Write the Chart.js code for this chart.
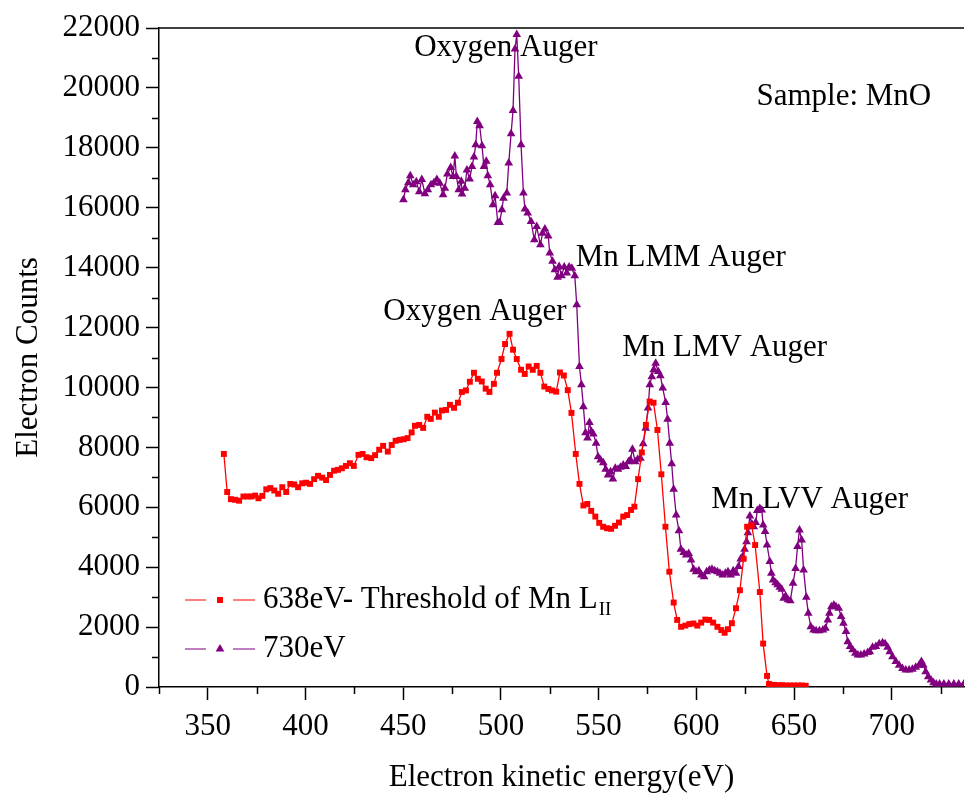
<!DOCTYPE html>
<html>
<head>
<meta charset="utf-8">
<script src="https://cdn.jsdelivr.net/npm/chart.js@4.4.1/dist/chart.umd.min.js"></script>
<style>
  html, body { margin: 0; padding: 0; background: #fff; }
  #wrap { width: 969px; height: 796px; }
</style>
</head>
<body>
<div id="wrap"><canvas id="auger" width="969" height="796"></canvas></div>
<script>
// Auger spectra of MnO at two excitation energies
const redLabel = '638eV- Threshold of Mn L';
const redSub = 'II';
const purpleLabel = '730eV';

const redX = [358.2, 359.9, 361.8, 364.0, 366.0, 368.2, 370.3, 372.3, 374.2, 375.9,
  377.9, 379.9, 382.0, 384.0, 386.0, 388.1, 390.1, 392.2, 394.2, 396.2,
  398.3, 400.3, 402.3, 404.4, 406.4, 408.5, 410.5, 412.5, 414.6, 416.6,
  418.6, 420.7, 422.7, 424.7, 427.1, 429.2, 431.2, 433.6, 435.6, 437.7,
  439.7, 442.1, 444.1, 446.1, 448.2, 450.2, 452.2, 454.3, 456.0, 458.2,
  460.2, 462.3, 464.1, 466.2, 468.2, 469.8, 471.9, 473.9, 476.0, 478.0,
  480.0, 482.1, 484.1, 486.2, 488.2, 490.2, 492.2, 494.1, 496.4, 498.0,
  500.3, 502.1, 504.4, 506.2, 508.1, 510.3, 512.2, 514.2, 516.3, 518.3,
  520.2, 522.2, 524.3, 526.1, 528.3, 530.2, 532.2, 534.2, 536.1, 538.3,
  540.2, 542.2, 544.2, 546.2, 548.3, 550.3, 552.3, 554.3, 556.4, 558.4,
  560.4, 562.6, 564.6, 566.6, 568.3, 570.2, 572.1, 574.2, 576.1, 578.1,
  580.1, 582.1, 584.2, 586.2, 588.4, 590.2, 592.2, 594.4, 596.4, 598.5,
  600.5, 602.5, 604.6, 606.6, 608.6, 610.8, 612.8, 614.5, 616.2, 618.2,
  620.3, 622.3, 624.2, 626.0, 628.3, 630.1, 632.5, 634.2, 636.2, 637.2,
  640, 642, 644, 646, 648, 650, 652, 654, 656];
const redY = [7780, 6510, 6270, 6250, 6220, 6360, 6360, 6360, 6390, 6300,
  6380, 6600, 6640, 6560, 6450, 6670, 6510, 6780, 6760, 6670,
  6800, 6820, 6780, 6940, 7050, 6990, 6910, 7080, 7220, 7250,
  7300, 7380, 7470, 7380, 7750, 7780, 7670, 7640, 7740, 7920,
  8050, 7860, 8080, 8220, 8250, 8270, 8310, 8500, 8720, 8750,
  8650, 9020, 8950, 9160, 9020, 9230, 9250, 9420, 9320, 9490,
  9850, 9900, 10190, 10490, 10290, 10200, 9960, 9850, 10120, 10490,
  10950, 11450, 11790, 11260, 10950, 10590, 10450, 10700, 10590, 10720,
  10490, 10030, 9950, 9900, 9860, 10500, 10400, 9910, 9150, 7780,
  6780, 6060, 6110, 5880, 5690, 5480, 5350, 5300, 5280, 5380,
  5490, 5690, 5740, 5910, 6020, 6940, 7830, 8750, 9530, 9490,
  8580, 7100, 5350, 3850, 2820, 2240, 2010, 2050, 2100, 2120,
  2050, 2150, 2250, 2240, 2150, 2010, 1900, 1810, 1930, 2130,
  2630, 3230, 4280, 5350, 5400, 4740, 3170, 1450, 370, 100,
  70, 60, 60, 50, 50, 50, 50, 50, 40];

const purpleX = [450.1, 451.1, 452.6, 453.6, 455.1, 456.7, 458.2, 459.5, 461.1, 462.6,
  464.2, 465.7, 467.2, 468.7, 470.4, 471.3, 472.6, 474.3, 475.5, 476.4,
  477.2, 478.4, 479.7, 480.1, 481.5, 482.6, 484.0, 485.2, 486.2, 487.1,
  487.9, 489.1, 490.3, 491.3, 492.5, 493.3, 494.5, 495.9, 497.0, 498.4,
  499.3, 500.5, 501.3, 503.0, 504.0, 505.2, 506.2, 507.2, 508.1, 509.1,
  510.3, 511.5, 512.3, 513.7, 515.4, 517.1, 518.3, 520.2, 521.3, 522.5,
  524.2, 525.0, 526.4, 527.6, 529.0, 529.8, 531.0, 532.4, 533.7, 534.9,
  536.3, 537.8, 538.8, 540.2, 541.2, 542.2, 543.3, 544.3, 545.3, 546.3,
  547.3, 548.7, 549.7, 551.0, 552.4, 553.6, 554.8, 556.1, 557.3, 558.5,
  559.9, 561.2, 562.6, 563.9, 565.3, 566.3, 567.3, 568.7, 570.0, 571.4,
  572.8, 574.1, 575.3, 576.2, 577.2, 578.2, 579.2, 580.5, 581.6, 582.8,
  584.3, 585.3, 586.4, 587.4, 588.4, 589.7, 591.1, 592.1, 593.5, 594.8,
  596.1, 597.3, 598.6, 599.9, 601.3, 602.6, 604.0, 605.3, 606.7, 608.0,
  609.4, 610.8, 612.1, 613.5, 614.9, 616.2, 617.6, 618.9, 620.3, 621.6,
  622.7, 623.7, 624.7, 625.7, 626.4, 627.4, 628.4, 629.4, 630.4, 631.2,
  632.5, 633.5, 634.2, 635.2, 636.2, 637.6, 638.4, 639.3, 640.6, 641.6,
  642.7, 643.7, 644.7, 645.7, 646.9, 648.1, 649.5, 650.8, 651.8, 652.8,
  653.9, 654.9, 656.3, 657.3, 658.6, 660.0, 661.3, 663.0, 664.8, 666.1,
  667.3, 668.1, 669.1, 670.4, 671.5, 672.9, 674.1, 675.3, 676.6, 677.5,
  678.7, 680.0, 681.4, 682.7, 684.2, 685.9, 687.7, 688.8, 690.2, 691.9,
  693.6, 695.3, 696.6, 697.9, 699.0, 700.4, 702.1, 703.8, 705.5, 707.2,
  708.9, 710.6, 712.3, 714.0, 715.2, 716.2, 717.4, 718.7, 720.1, 721.4,
  722.8, 724.5, 726.7, 729.2, 731.8, 734.3, 736.9];
const purpleY = [16270, 16600, 16830, 17070, 16770, 16870, 16530, 16940, 16470, 16600,
  16770, 16830, 16940, 16820, 16430, 16650, 17130, 17340, 17040, 17730,
  17040, 16600, 16880, 16460, 16650, 17260, 16960, 17380, 17690, 18100,
  18880, 18740, 18070, 17380, 17550, 17070, 16770, 16100, 16400, 15510,
  15510, 15930, 16320, 16490, 17490, 18470, 19250, 21300, 21780, 20390,
  18100, 16490, 15960, 15820, 15540, 14930, 15370, 14760, 15150, 15290,
  15060, 14490, 14210, 13930, 13680, 14040, 13730, 14020, 13820, 14020,
  13980, 13730, 12760, 10700, 10090, 9360, 8490, 8310, 8830, 8530,
  8450, 8140, 7690, 7580, 7490, 7270, 7080, 7190, 6940, 7300,
  7270, 7340, 7410, 7360, 7520, 7580, 7940, 7520, 7600, 7640,
  8120, 8640, 9310, 10090, 10360, 10590, 10810, 10530, 10390, 9980,
  9500, 8940, 8140, 7450, 6600, 5740, 5220, 4600, 4490, 4410,
  4460, 4240, 3930, 3850, 3880, 3740, 3680, 3850, 3910, 3930,
  3880, 3850, 3800, 3740, 3800, 3850, 3740, 3880, 3800, 4020,
  4270, 4350, 4600, 4850, 5150, 5710, 5440, 5350, 5490, 5890,
  5960, 5910, 5410, 5190, 4740, 4190, 3800, 3570, 3480, 3410,
  3330, 3260, 2960, 3040, 2910, 2880, 3460, 3960, 4690, 5240,
  4910, 3910, 3000, 2460, 2010, 1900, 1880, 1880, 1900, 1960,
  2240, 2460, 2680, 2740, 2680, 2630, 2350, 2130, 1850, 1510,
  1350, 1240, 1130, 1070, 1070, 1100, 1150, 1180, 1330, 1350,
  1440, 1480, 1440, 1330, 1180, 1010, 850, 730, 620, 570,
  570, 590, 660, 730, 850, 730, 510, 340, 230, 140,
  100, 100, 100, 100, 100, 100, 100];

// axis ranges and tick steps
const xMin = 325, xMax = 737, xMinor = 25, xMajor = 50;
const yMin = 0, yMax = 22000, yMinor = 1000, yMajor = 2000;

// peak labels, anchored in data coordinates
const noteText = ['Oxygen Auger', 'Sample: MnO', 'Mn LMM Auger', 'Oxygen Auger', 'Mn LMV Auger', 'Mn LVV Auger'];
const noteX = [502.5, 675.5, 592.0, 486.7, 614.5, 658.0];
const noteY = [21340, 19700, 14330, 12520, 11320, 6250];

const RED = '#ff0000';
const PURPLE = '#800080';
const FONT = '"Liberation Serif", "Times New Roman", serif';
const FS = 31;

function toPoints(xs, ys) {
    return xs.map((x, i) => ({ x: x, y: ys[i] }));
}

function stepTicks(min, max, step) {
    const out = [];
    for (let v = Math.ceil(min / step) * step; v <= max; v += step) out.push({ value: v });
    return out;
}

// top frame, minor ticks, peak notes and the legend
const decorations = {
    id: 'decorations',
    afterDraw(chart) {
        const ctx = chart.ctx;
        const area = chart.chartArea;
        const xs = chart.scales.x;
        const ys = chart.scales.y;
        ctx.save();
        ctx.strokeStyle = '#000';
        ctx.lineWidth = 1.5;
        ctx.beginPath();
        ctx.moveTo(area.left, area.top);
        ctx.lineTo(area.right, area.top);
        ctx.stroke();

        // minor ticks (shorter than the major ones)
        ctx.beginPath();
        for (let v = xMin; v <= xMax; v += xMinor) {
            if (v % xMajor === 0) continue;
            const px = Math.round(xs.getPixelForValue(v)) + 0.5;
            ctx.moveTo(px, area.bottom);
            ctx.lineTo(px, area.bottom + 7);
        }
        for (let v = yMin; v <= yMax; v += yMinor) {
            if (v % yMajor === 0) continue;
            const py = Math.round(ys.getPixelForValue(v)) + 0.5;
            ctx.moveTo(area.left, py);
            ctx.lineTo(area.left - 7, py);
        }
        ctx.stroke();

        ctx.fillStyle = '#000';
        ctx.font = FS + 'px ' + FONT;
        ctx.textAlign = 'center';
        ctx.textBaseline = 'middle';
        noteText.forEach((t, i) => {
            ctx.fillText(t, xs.getPixelForValue(noteX[i]), ys.getPixelForValue(noteY[i]));
        });

        // legend
        const rows = [
            { color: RED, style: 'rect', radius: 4.2, text: redLabel, sub: redSub, y: 600 },
            { color: PURPLE, style: 'triangle', radius: 5, text: purpleLabel, sub: '', y: 649 }
        ];
        rows.forEach(r => {
            ctx.strokeStyle = r.color;
            ctx.lineWidth = 1.2;
            ctx.beginPath();
            ctx.moveTo(185, r.y); ctx.lineTo(206, r.y);
            ctx.moveTo(233, r.y); ctx.lineTo(255, r.y);
            ctx.stroke();
            ctx.fillStyle = r.color;
            Chart.helpers.drawPoint(ctx, { pointStyle: r.style, radius: r.radius, borderWidth: 0 }, 220, r.y);
            ctx.fillStyle = '#000';
            ctx.textAlign = 'left';
            ctx.font = FS + 'px ' + FONT;
            ctx.fillText(r.text, 263, r.y);
            if (r.sub) {
                const w = ctx.measureText(r.text).width;
                ctx.font = '19px ' + FONT;
                ctx.fillText(r.sub, 263 + w + 1, r.y + 10);
            }
        });
        ctx.restore();
    }
};

new Chart(document.getElementById('auger'), {
    type: 'scatter',
    data: {
        datasets: [
            {
                label: redLabel + redSub,
                data: toPoints(redX, redY),
                showLine: true,
                borderColor: RED,
                backgroundColor: RED,
                borderWidth: 1.3,
                pointStyle: 'rect',
                pointRadius: 4.2,
                pointBorderWidth: 0,
                pointBackgroundColor: RED
            },
            {
                label: purpleLabel,
                data: toPoints(purpleX, purpleY),
                showLine: true,
                borderColor: PURPLE,
                backgroundColor: PURPLE,
                borderWidth: 1.3,
                pointStyle: 'triangle',
                pointRadius: 5,
                pointBorderWidth: 0,
                pointBackgroundColor: PURPLE
            }
        ]
    },
    options: {
        responsive: false,
        animation: false,
        layout: { padding: { top: 28, right: 0, left: 0, bottom: 0 } },
        plugins: {
            legend: { display: false },
            tooltip: { enabled: false }
        },
        scales: {
            x: {
                type: 'linear',
                min: xMin,
                max: xMax,
                afterBuildTicks: s => { s.ticks = stepTicks(xMin, xMax, xMinor); },
                afterFit: s => { s.height = 109; },
                ticks: {
                    autoSkip: false,
                    maxRotation: 0,
                    padding: 8,
                    color: '#000',
                    font: { family: FONT, size: FS },
                    callback: v => (v % xMajor === 0 ? v : '')
                },
                grid: {
                    drawOnChartArea: false,
                    tickLength: 13,
                    tickWidth: 1.5,
                    tickColor: c => (c.tick && c.tick.value % xMajor === 0 ? '#000' : 'rgba(0,0,0,0)')
                },
                border: { color: '#000', width: 1.5 },
                title: {
                    display: true,
                    text: 'Electron kinetic energy(eV)',
                    color: '#000',
                    font: { family: FONT, size: FS },
                    padding: { top: 0, bottom: 0 }
                }
            },
            y: {
                min: yMin,
                max: yMax,
                afterBuildTicks: s => { s.ticks = stepTicks(yMin, yMax, yMinor); },
                afterFit: s => { s.width = 159; },
                ticks: {
                    autoSkip: false,
                    padding: 6,
                    color: '#000',
                    font: { family: FONT, size: FS },
                    callback: v => (v % yMajor === 0 ? v : '')
                },
                grid: {
                    drawOnChartArea: false,
                    tickLength: 13,
                    tickWidth: 1.5,
                    tickColor: c => (c.tick && c.tick.value % yMajor === 0 ? '#000' : 'rgba(0,0,0,0)')
                },
                border: { color: '#000', width: 1.5 },
                title: {
                    display: true,
                    text: 'Electron Counts',
                    color: '#000',
                    font: { family: FONT, size: FS },
                    padding: { top: 10, bottom: 0 }
                }
            }
        }
    },
    plugins: [decorations]
});
</script>
</body>
</html>
